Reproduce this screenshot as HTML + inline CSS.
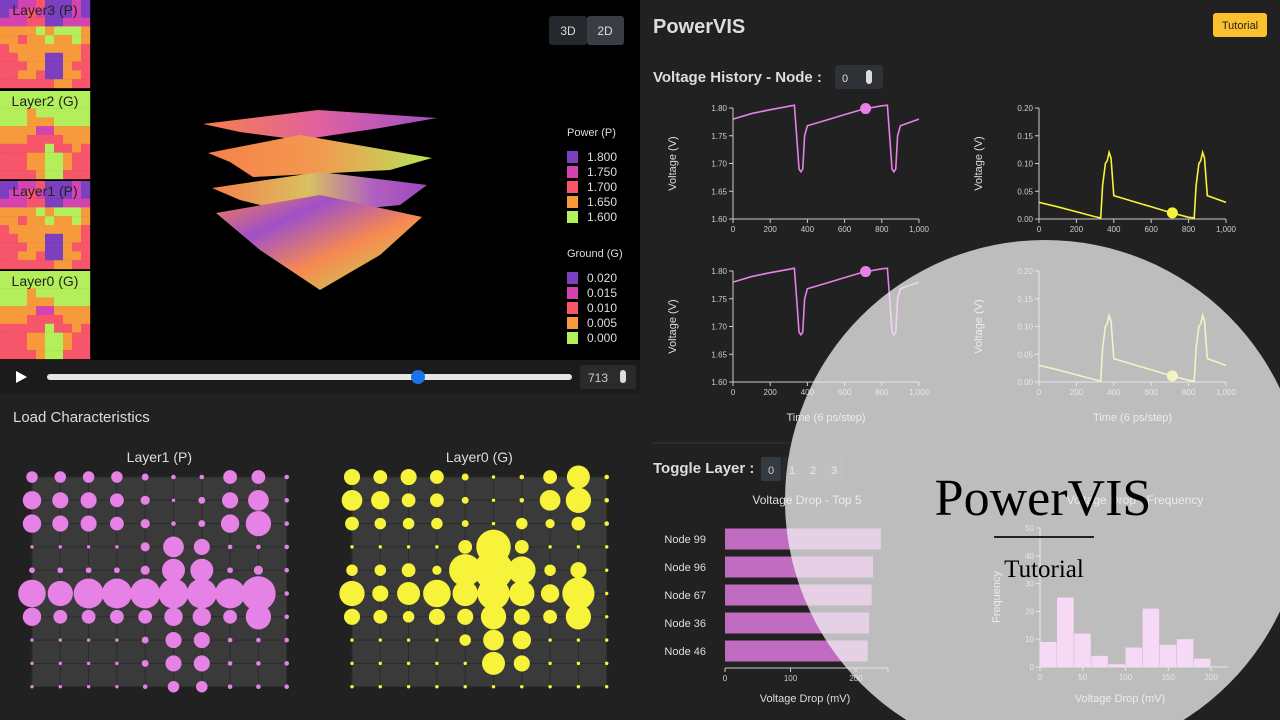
<!DOCTYPE html>
<html><head><meta charset="utf-8">
<style>
html,body{margin:0;width:1280px;height:720px;overflow:hidden;background:#212121;font-family:"Liberation Sans",sans-serif;}
svg{position:absolute;left:0;top:0;overflow:hidden;}
text{font-family:"Liberation Sans",sans-serif;}
</style></head>
<body>
<svg id="s" width="1280" height="720" viewBox="0 0 1280 720">
<defs>
<linearGradient id="g1" x1="0" y1="0" x2="1" y2="0"><stop offset="0" stop-color="#f7804a"/><stop offset="0.5" stop-color="#e060a0"/><stop offset="1" stop-color="#a050c8"/></linearGradient>
<linearGradient id="g2" x1="0" y1="0" x2="1" y2="0"><stop offset="0" stop-color="#f7804a"/><stop offset="0.5" stop-color="#f29a50"/><stop offset="1" stop-color="#b8e45a"/></linearGradient>
<linearGradient id="g3" x1="0" y1="0" x2="1" y2="0"><stop offset="0" stop-color="#f7804a"/><stop offset="0.45" stop-color="#d8c060"/><stop offset="0.75" stop-color="#b060c0"/><stop offset="1" stop-color="#a048c0"/></linearGradient>
<linearGradient id="g4" x1="0" y1="0" x2="1" y2="1"><stop offset="0" stop-color="#f7804a"/><stop offset="0.3" stop-color="#a050c8"/><stop offset="0.6" stop-color="#f78a50"/><stop offset="1" stop-color="#b8e45a"/></linearGradient>
<clipPath id="clipall"><rect x="0" y="0" width="1280" height="720"/></clipPath>
</defs>
<g clip-path="url(#clipall)">
<rect x="0" y="0" width="640" height="360" fill="#000"/>
<rect x="0" y="360" width="640" height="34" fill="#1b1b1b"/>
<g id="heat"></g>
<g id="stack">
<polygon points="203,124 318,110 437,118 380,128 300,140 240,132" fill="url(#g1)"/>
<polygon points="208,153 300,135 432,158 390,170 253,177 230,162" fill="url(#g2)"/>
<polygon points="212,188 320,172 427,185 400,205 300,215 240,200" fill="url(#g3)"/>
<polygon points="216,213 320,195 422,217 380,255 320,290 260,250" fill="url(#g4)"/>
</g>
<g>
<rect x="549" y="16" width="38" height="29" rx="3" fill="#25282c"/>
<rect x="587" y="16" width="37" height="29" rx="3" fill="#3a3e44"/>
<text x="568" y="35" fill="#ddd" font-size="12" text-anchor="middle">3D</text>
<text x="605" y="35" fill="#ddd" font-size="12" text-anchor="middle">2D</text>
</g>
<g id="legend"></g>
<g>
<path d="M16,371 L27,377 L16,383Z" fill="#fff"/>
<rect x="47" y="374" width="525" height="6" rx="3" fill="#e6e6e6"/>
<circle cx="418" cy="377" r="7" fill="#1a73e8"/>
<rect x="580" y="365" width="56" height="24" rx="3" fill="#2b2b2b"/>
<text x="588" y="382" fill="#ccc" font-size="12">713</text>
<rect x="620" y="370" width="6" height="13" rx="3" fill="#ddd"/>
</g>
<text x="13" y="422" fill="#ddd" font-size="15">Load Characteristics</text>
<g id="bub"></g>
<text x="653" y="33" fill="#ddd" font-size="20" font-weight="bold">PowerVIS</text>
<rect x="1213" y="13" width="54" height="24" rx="3" fill="#fbc02d"/>
<text x="1240" y="29" fill="#222" font-size="11" text-anchor="middle">Tutorial</text>
<text x="653" y="82" fill="#ddd" font-size="15" font-weight="bold">Voltage History - Node :</text>
<rect x="835" y="65" width="48" height="24" rx="3" fill="#2e3237"/>
<text x="842" y="82" fill="#ddd" font-size="11">0</text>
<rect x="866" y="70" width="6" height="14" rx="3" fill="#ddd"/>
<g id="lines"></g>
<line x1="652" y1="443" x2="1268" y2="443" stroke="#333"/>
<text x="653" y="473" fill="#ddd" font-size="15" font-weight="bold">Toggle Layer :</text>
<g id="toggles"></g>
<g id="bars"></g>
<g id="hist"></g>
<circle cx="1045" cy="500" r="260" fill="rgba(241,241,241,0.75)"/>
<text x="1043" y="515" fill="#000" font-size="52" text-anchor="middle" style="font-family:'Liberation Serif',serif">PowerVIS</text>
<line x1="994" y1="537" x2="1094" y2="537" stroke="#222" stroke-width="2"/>
<text x="1044" y="577" fill="#000" font-size="25" text-anchor="middle" style="font-family:'Liberation Serif',serif">Tutorial</text>
</g>
</svg>
<script>
const NS="http://www.w3.org/2000/svg";
function mk(p,tag,a,txt){const e=document.createElementNS(NS,tag);for(const k in a)e.setAttribute(k,a[k]);if(txt!==undefined)e.textContent=txt;p.appendChild(e);return e;}
// ---- heatmap data ----
const heatColors=["#b3ef5a","#f79a3c","#f7566a","#d444b0","#7b3fbf"];
const heatP=[[4,4,3,3,2,4,4,4,3,4],[4,3,3,2,3,4,4,4,3,4],[3,3,3,2,2,4,4,3,3,3],[1,1,1,1,0,1,0,0,0,1],[1,1,2,1,1,0,1,1,0,1],[2,1,1,1,1,1,1,1,1,2],[2,2,1,1,1,4,4,1,1,2],[2,2,2,1,1,4,4,1,2,2],[2,2,1,1,2,4,4,1,1,2],[2,2,2,2,2,2,1,1,2,2]];
const heatG=[[0,0,0,0,0,0,0,0,0,0],[0,0,0,0,0,0,0,0,0,0],[0,0,0,1,0,0,0,0,0,0],[0,0,0,1,1,1,0,0,0,0],[1,1,1,1,3,3,1,1,1,1],[1,1,1,2,2,2,2,1,1,1],[2,2,2,2,2,0,2,2,1,2],[2,2,2,1,1,0,0,1,2,2],[2,2,2,1,1,0,0,1,2,2],[2,2,2,2,1,0,0,2,2,2]];
const heatLabels=["Layer3 (P)","Layer2 (G)","Layer1 (P)","Layer0 (G)"];
const heatTops=[0,91,181,271];
const hg=document.getElementById('heat');
heatLabels.forEach((lab,i)=>{
  const g=mk(hg,'g',{});
  
  
  const d=lab.indexOf('(P)')>0?heatP:heatG;
  const y0=heatTops[i];
  d.forEach((row,r)=>row.forEach((v,c)=>{
    const cell=mk(g,'rect',{x:c*9,y:y0+r*8.8,width:9.2,height:9,fill:heatColors[v]});
    
    
  }));
  const t=mk(g,'text',{x:45,y:y0+15,'font-size':14,fill:'#222','text-anchor':'middle'},lab);
  
  
});
// ---- legends ----
const powerTicks=["1.800","1.750","1.700","1.650","1.600"];
const groundTicks=["0.020","0.015","0.010","0.005","0.000"];
const lg=document.getElementById('legend');
[["Power (P)",powerTicks,132],["Ground (G)",groundTicks,253]].forEach(([title,ticks,y])=>{
  const g=mk(lg,'g',{});
  
  
  mk(g,'text',{x:567,y:y+4,fill:'#ddd','font-size':11},title);
  ticks.forEach((t,i)=>{
    const yy=y+25+i*15;
    const sw=mk(g,'rect',{x:567,y:yy-6,width:11,height:12,fill:heatColors[4-i]});
    
    
    mk(g,'text',{x:587,y:yy+4,fill:'#ddd','font-size':12},t);
  });
});
// ---- bubble data ----
const loadP=[[5,5,5,5,3,2,2,6,6,2],[8,7,7,6,4,1.5,3,7,9,2],[8,7,7,6,4,2,3,8,11,2],[1.5,1.5,1.5,1.5,4,9,7,2,2,2],[2.5,2.5,2.5,2.5,4,10,10,2.5,4,2],[12,11,13,13,13,13,13,13,15,2],[8,6,6,6,6,8,8,6,11,2],[1.5,1.5,1.5,1.5,3,7,7,2,2,2],[1.5,1.5,1.5,1.5,3,7,7,2,2,2],[1.5,1.5,1.5,1.5,2,5,5,2,2,2]];
const loadG=[[7,6,7,6,3,1.5,2,6,10,2],[9,8,6,6,3,1.5,2,9,11,2],[6,5,5,5,3,1.5,5,4,6,2],[1.5,1.5,1.5,1.5,6,15,6,1.5,1.5,1.5],[5,5,6,4,14,17,12,5,7,1.5],[11,7,10,12,11,14,11,8,14,1.5],[7,6,5,7,7,11,7,6,11,1.5],[1.5,1.5,1.5,1.5,5,9,8,1.5,1.5,1.5],[1.5,1.5,1.5,1.5,1.5,10,7,1.5,1.5,1.5],[1.5,1.5,1.5,1.5,1.5,1.5,1.5,1.5,1.5,1.5]];
const bg=document.getElementById('bub');
function rScale(v){return v*1.15;}
function bubble(data,x0,color,title){
  const g=mk(bg,'g',{});
  
  
  const dx=28.3,dy=23.3,y0=477;
  mk(g,'rect',{x:x0,y:y0,width:dx*9,height:dy*9,fill:'#3a3a3a'});
  for(let i=0;i<10;i++){
    mk(g,'line',{x1:x0+i*dx,y1:y0,x2:x0+i*dx,y2:y0+9*dy,stroke:'#2a2a2a','stroke-width':1});
    mk(g,'line',{x1:x0,y1:y0+i*dy,x2:x0+9*dx,y2:y0+i*dy,stroke:'#2a2a2a','stroke-width':1});
  }
  const t=mk(g,'text',{x:x0+4.5*dx,y:462,fill:'#ddd','font-size':14,'text-anchor':'middle'},title);
  
  
  data.forEach((row,r)=>row.forEach((v,c)=>{
    const e=mk(g,'circle',{cx:x0+c*dx,cy:y0+r*dy,r:rScale(v),fill:color});
    
    
  }));
}
bubble(loadP,32,'#e681e6','Layer1 (P)');
bubble(loadG,352,'#f6f33a','Layer0 (G)');
// ---- line data ----
const timeSteps=[0,100,200,300,330,340,355,365,375,385,400,500,600,700,800,830,840,855,865,875,885,900,1000];
const powerV=[1.780,1.790,1.797,1.803,1.805,1.760,1.690,1.685,1.690,1.750,1.768,1.778,1.788,1.798,1.804,1.805,1.760,1.690,1.685,1.690,1.750,1.768,1.780];
const groundV=[0.030,0.022,0.013,0.004,0.002,0.060,0.100,0.105,0.120,0.110,0.042,0.032,0.022,0.012,0.003,0.002,0.060,0.100,0.105,0.120,0.110,0.042,0.030];
const markerT=713, markerP=1.799, markerG=0.011;
const xTicks=[0,200,400,600,800,1000];
const pTicks=[1.60,1.65,1.70,1.75,1.80];
const gTicks=[0.00,0.05,0.10,0.15,0.20];
const lgEl=document.getElementById('lines');
function lineChart(x0,x1,yTop,yBot,vals,ticks,dom,color,mv,showX,name){
  const g=mk(lgEl,'g',{});
  
  
  const X=t=>x0+(t/1000)*(x1-x0);
  const Y=v=>yBot-(v-dom[0])/(dom[1]-dom[0])*(yBot-yTop);
  mk(g,'line',{x1:x0,y1:yTop,x2:x0,y2:yBot,stroke:'#ccc'});
  mk(g,'line',{x1:x0,y1:yBot,x2:x1,y2:yBot,stroke:'#ccc'});
  ticks.forEach(v=>{mk(g,'line',{x1:x0-4,y1:Y(v),x2:x0,y2:Y(v),stroke:'#ccc'});mk(g,'text',{x:x0-6,y:Y(v)+3,fill:'#ccc','font-size':8,'text-anchor':'end'},v.toFixed(2));});
  xTicks.forEach(t=>{mk(g,'line',{x1:X(t),y1:yBot,x2:X(t),y2:yBot+4,stroke:'#ccc'});mk(g,'text',{x:X(t),y:yBot+13,fill:'#ccc','font-size':8,'text-anchor':'middle'},t.toLocaleString('en-US'));});
  const p=mk(g,'polyline',{points:timeSteps.map((t,i)=>X(t)+','+Y(vals[i])).join(' '),fill:'none',stroke:color,'stroke-width':1.6});
  
  
  const m=mk(g,'circle',{cx:X(markerT),cy:Y(mv),r:5.5,fill:color});
  
  
  mk(g,'text',{x:x0-57,y:(yTop+yBot)/2,fill:'#ddd','font-size':11,'text-anchor':'middle',transform:`rotate(-90 ${x0-57} ${(yTop+yBot)/2})`},'Voltage (V)');
  if(showX)mk(g,'text',{x:(x0+x1)/2,y:yBot+39,fill:'#ddd','font-size':11,'text-anchor':'middle'},'Time (6 ps/step)');
}
lineChart(733,919,108,219,powerV,pTicks,[1.6,1.8],'#e681e6',markerP,false,'power-history-top');
lineChart(1039,1226,108,219,groundV,gTicks,[0,0.2],'#f6f33a',markerG,false,'ground-history-top');
lineChart(733,919,271,382,powerV,pTicks,[1.6,1.8],'#e681e6',markerP,true,'power-history-bottom');
lineChart(1039,1226,271,382,groundV,gTicks,[0,0.2],'#f6f33a',markerG,true,'ground-history-bottom');
// ---- toggles ----
const layerIds=["0","1","2","3"];
const tg=document.getElementById('toggles');
layerIds.forEach((l,i)=>{
  const r=mk(tg,'rect',{x:761+i*21,y:457,width:20,height:24,rx:2,fill:i==0?'#343a40':'#2a2a2a'});
  
  
  mk(tg,'text',{x:771+i*21,y:474,fill:'#ccc','font-size':11,'text-anchor':'middle'},l);
});
// ---- bar chart ----
const barNodes=["Node 99","Node 96","Node 67","Node 36","Node 46"];
const barDrops=[238,226,224,220,218];
const barTicks=[0,100,200];
const bgEl=document.getElementById('bars');
(function(){
  const x0=725,k=0.655,yAxis=668;
  const X=v=>x0+v*k;
  mk(bgEl,'text',{x:807,y:504,fill:'#ddd','font-size':12,'text-anchor':'middle'},'Voltage Drop - Top 5');
  barNodes.forEach((n,i)=>{
    const cy=539+i*28;
    const b=mk(bgEl,'rect',{x:x0,y:cy-10.5,width:X(barDrops[i])-x0,height:21,fill:'#c06cc0'});
    
    
    mk(bgEl,'text',{x:706,y:cy+4,fill:'#ddd','font-size':11,'text-anchor':'end'},n);
  });
  mk(bgEl,'line',{x1:x0,y1:yAxis,x2:888,y2:yAxis,stroke:'#ccc'});
  mk(bgEl,'line',{x1:888,y1:yAxis,x2:888,y2:yAxis+4,stroke:'#ccc'});
  barTicks.forEach(t=>{mk(bgEl,'line',{x1:X(t),y1:yAxis,x2:X(t),y2:yAxis+4,stroke:'#ccc'});mk(bgEl,'text',{x:X(t),y:yAxis+13,fill:'#ccc','font-size':8,'text-anchor':'middle'},t);});
  mk(bgEl,'text',{x:805,y:702,fill:'#ddd','font-size':11,'text-anchor':'middle'},'Voltage Drop (mV)');
})();
// ---- histogram ----
const histBins=[0,20,40,60,80,100,120,140,160,180];
const histCounts=[9,25,12,4,1,7,21,8,10,3];
const histYTicks=[0,10,20,30,40,50];
const histXTicks=[0,50,100,150,200];
const hgEl=document.getElementById('hist');
(function(){
  const x0=1040,x200=1211,y0=667,y50=528;
  const X=v=>x0+v/200*(x200-x0);
  const Y=v=>y0-v/50*(y0-y50);
  mk(hgEl,'text',{x:1135,y:504,fill:'#ddd','font-size':12,'text-anchor':'middle'},'Voltage Drop - Frequency');
  histBins.forEach((b,i)=>{
    const r=mk(hgEl,'rect',{x:X(b),y:Y(histCounts[i]),width:X(b+20)-X(b)-0.5,height:y0-Y(histCounts[i]),fill:'#ff90ff'});
    
    
  });
  mk(hgEl,'line',{x1:x0,y1:y0,x2:1228,y2:y0,stroke:'#ccc'});
  mk(hgEl,'line',{x1:x0,y1:y50,x2:x0,y2:y0,stroke:'#ccc'});
  histYTicks.forEach(t=>{mk(hgEl,'line',{x1:x0-4,y1:Y(t),x2:x0,y2:Y(t),stroke:'#ccc'});mk(hgEl,'text',{x:x0-6,y:Y(t)+3,fill:'#ccc','font-size':8,'text-anchor':'end'},t);});
  histXTicks.forEach(t=>{mk(hgEl,'line',{x1:X(t),y1:y0,x2:X(t),y2:y0+4,stroke:'#ccc'});mk(hgEl,'text',{x:X(t),y:y0+13,fill:'#ccc','font-size':8,'text-anchor':'middle'},t);});
  mk(hgEl,'text',{x:1000,y:597,fill:'#ddd','font-size':11,'text-anchor':'middle',transform:'rotate(-90 1000 597)'},'Frequency');
  mk(hgEl,'text',{x:1120,y:702,fill:'#ddd','font-size':11,'text-anchor':'middle'},'Voltage Drop (mV)');
})();
</script>
</body></html>
